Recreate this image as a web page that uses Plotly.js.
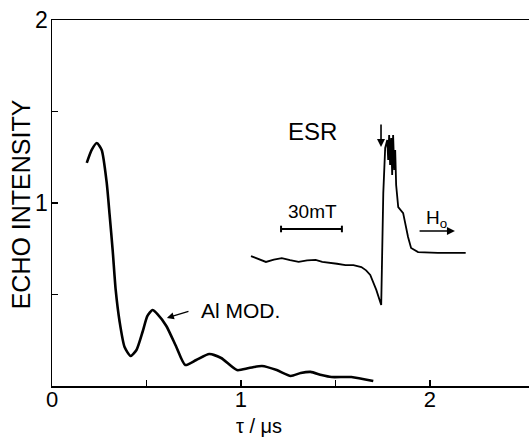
<!DOCTYPE html>
<html>
<head>
<meta charset="utf-8">
<script src="https://cdn.plot.ly/plotly-3.0.1.min.js"></script>
<style>html,body{margin:0;padding:0;background:#fff;}#chart{width:529px;height:437px;}</style>
</head>
<body>
<div id="chart"></div>
<script>
// Al modulation curve: echo intensity vs tau (µs)
const alTau  = [0.184,0.21,0.237,0.263,0.289,0.305,0.321,0.337,0.358,0.384,0.416,0.447,0.479,0.505,0.532,0.558,0.605,0.658,0.705,0.763,0.832,0.895,0.979,1.042,1.111,1.189,1.263,1.316,1.368,1.426,1.479,1.584,1.7];
const alEcho = [1.219,1.29,1.328,1.29,1.115,0.934,0.743,0.525,0.35,0.213,0.164,0.197,0.295,0.383,0.415,0.393,0.328,0.213,0.115,0.142,0.175,0.153,0.087,0.098,0.109,0.087,0.055,0.071,0.077,0.06,0.049,0.049,0.027];
// ESR spectrum inset (drawn in the same frame)
const esrX = [1.053,1.092,1.132,1.174,1.216,1.26,1.305,1.35,1.395,1.43,1.463,1.508,1.553,1.595,1.637,1.662,1.684,1.716,1.742,1.753,1.763,1.774,1.779,1.784,1.789,1.795,1.8,1.805,1.811,1.816,1.821,1.832,1.858,1.884,1.9,1.937,2.042,2.189];
const esrY = [0.71,0.692,0.678,0.69,0.699,0.688,0.678,0.686,0.689,0.678,0.672,0.668,0.661,0.66,0.65,0.632,0.607,0.525,0.443,1.055,1.301,1.344,1.235,1.372,1.208,1.355,1.153,1.372,1.18,1.29,1.098,0.978,0.945,0.814,0.754,0.732,0.727,0.727];
// tick labels
const xTickVals = [0,1,2];
const xTickText = ['0','1','2'];
const xMinorVals = [0.5,1.5];
const yTickVals = [1,2];
const yTickText = ['1','2'];
const yMinorVals = [0.5,1.5];
const xTitle = 'τ / μs';
const yTitle = 'ECHO INTENSITY';

const FONT = 'Liberation Sans, Arial, sans-serif';
const traces = [
  {x: alTau, y: alEcho, mode: 'lines', line: {color: '#000', width: 2.6, shape: 'spline', smoothing: 0.6}, hoverinfo: 'skip'},
  {x: esrX, y: esrY, mode: 'lines', line: {color: '#000', width: 1.8}, hoverinfo: 'skip'}
];
const minorStyle = {ticks: 'inside', ticklen: 6, tickwidth: 1.5, tickcolor: '#000', showgrid: false};
const layout = {
  width: 529, height: 437,
  margin: {l: 52, r: 0, t: 20, b: 51},
  paper_bgcolor: '#fff', plot_bgcolor: '#fff',
  showlegend: false,
  font: {family: FONT, color: '#000', size: 24},
  xaxis: {
    range: [0, 2.524], showgrid: false, zeroline: false,
    showline: true, mirror: true, linecolor: '#000', linewidth: 1.5,
    ticks: 'inside', ticklen: 6, tickwidth: 1.5, tickcolor: '#000',
    tickmode: 'array', tickvals: xTickVals, ticktext: xTickText,
    minor: Object.assign({tickmode: 'array', tickvals: xMinorVals}, minorStyle),
    tickfont: {size: 22, family: FONT}, ticklabelstandoff: -7
  },
  yaxis: {
    range: [0, 2], showgrid: false, zeroline: false,
    showline: true, linecolor: '#000', linewidth: 1.5,
    ticks: 'inside', ticklen: 6, tickwidth: 1.5, tickcolor: '#000',
    tickmode: 'array', tickvals: yTickVals, ticktext: yTickText,
    minor: Object.assign({tickmode: 'array', tickvals: yMinorVals}, minorStyle),
    tickfont: {size: 23, family: FONT}, ticklabelstandoff: -2
  },
  annotations: [
    {xref: 'paper', yref: 'paper', x: -0.066, y: 0.495, xanchor: 'center', yanchor: 'middle', text: yTitle, textangle: -90, showarrow: false, font: {size: 25}},
    {xref: 'paper', yref: 'paper', x: 0.434, y: -0.108, xanchor: 'center', yanchor: 'middle', text: xTitle, showarrow: false, font: {size: 20}},
    {x: 1.376, y: 1.393, text: 'ESR', showarrow: false, font: {size: 24}},
    {x: 1.381, y: 0.951, text: '30mT', showarrow: false, font: {size: 19}},
    {x: 0.995, y: 0.415, text: 'Al MOD.', showarrow: false, font: {size: 21}},
    {x: 0.608, y: 0.372, ax: 0.73, ay: 0.41, axref: 'x', ayref: 'y', text: '', showarrow: true, arrowhead: 2, arrowsize: 1, arrowwidth: 1.4, arrowcolor: '#000'},
    {x: 2.037, y: 0.913, text: 'H<sub>o</sub>', showarrow: false, font: {size: 19}},
    {x: 2.132, y: 0.847, ax: 1.937, ay: 0.847, axref: 'x', ayref: 'y', text: '', showarrow: true, arrowhead: 2, arrowsize: 1, arrowwidth: 1.6, arrowcolor: '#000'},
    {x: 1.741, y: 1.306, ax: 1.741, ay: 1.437, axref: 'x', ayref: 'y', text: '', showarrow: true, arrowhead: 2, arrowsize: 1, arrowwidth: 1.6, arrowcolor: '#000'}
  ],
  shapes: [
    {type: 'line', xref: 'x', yref: 'y', x0: 1.212, x1: 1.534, y0: 0.858, y1: 0.858, line: {color: '#000', width: 2}},
    {type: 'line', xref: 'x', yref: 'y', x0: 1.212, x1: 1.212, y0: 0.84, y1: 0.876, line: {color: '#000', width: 2}},
    {type: 'line', xref: 'x', yref: 'y', x0: 1.534, x1: 1.534, y0: 0.84, y1: 0.876, line: {color: '#000', width: 2}}
  ]
};
Plotly.newPlot('chart', traces, layout, {staticPlot: true, displayModeBar: false});
</script>
</body>
</html>
